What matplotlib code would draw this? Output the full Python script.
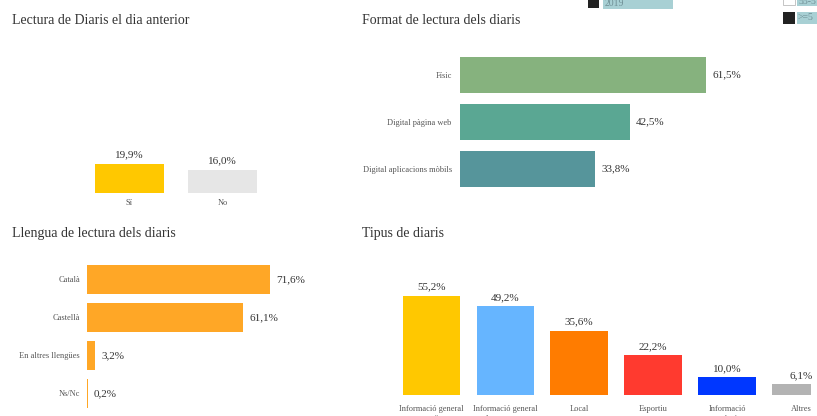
import matplotlib.pyplot as plt
from matplotlib.patches import Rectangle

# data
lectura_cats = ["Sí", "No"]
lectura_vals = [19.9, 16.0]
lectura_colors = ["#FFC800", "#E6E6E6"]

format_cats = ["Físic", "Digital pàgina web", "Digital aplicacions mòbils"]
format_vals = [61.5, 42.5, 33.8]
format_colors = ["#86B27E", "#5AA793", "#56959B"]

llengua_cats = ["Català", "Castellà", "En altres llengües", "Ns/Nc"]
llengua_vals = [71.6, 61.1, 3.2, 0.2]
llengua_color = "#FFA726"

tipus_cats = ["Informació general\ngratuïta", "Informació general\nde pagament", "Local",
              "Esportiu", "Informació\neconòmica", "Altres"]
tipus_vals = [55.2, 49.2, 35.6, 22.2, 10.0, 6.1]
tipus_colors = ["#FFC800", "#66B5FF", "#FF7C00", "#FF3A2F", "#0037FF", "#B3B3B3"]

W, H = 817, 416
TITLE_C = "#333333"
TICK_C = "#555555"
VAL_C = "#333333"

plt.rcParams["font.family"] = ["Liberation Serif", "DejaVu Serif"]


def box(l, t, r, b):
    return [l / W, 1 - b / H, (r - l) / W, (b - t) / H]


def pct(v):
    return f"{v:.1f}%".replace(".", ",")


def clean(ax):
    for s in ax.spines.values():
        s.set_visible(False)
    ax.tick_params(length=0, colors=TICK_C, labelsize=6)


fig = plt.figure(figsize=(W / 100, H / 100), dpi=100)

# titles
fig.text(12 / W, 1 - 21 / H, "Lectura de Diaris el dia anterior", fontsize=10, color=TITLE_C, va="center")
fig.text(362 / W, 1 - 21 / H, "Format de lectura dels diaris", fontsize=10, color=TITLE_C, va="center")
fig.text(12 / W, 1 - 234 / H, "Llengua de lectura dels diaris", fontsize=10, color=TITLE_C, va="center")
fig.text(362 / W, 1 - 234 / H, "Tipus de diaris", fontsize=10, color=TITLE_C, va="center")

# clipped legend fragments at the top
teal = "#A8D0D4"
fig.patches.append(Rectangle((588 / W, 1 - 8 / H), 11 / W, 10 / H, transform=fig.transFigure,
                             facecolor="#222222", edgecolor="none"))
fig.patches.append(Rectangle((603 / W, 1 - 9 / H), 70 / W, 11 / H, transform=fig.transFigure,
                             facecolor=teal, edgecolor="none"))
fig.text(605 / W, 1 - 3 / H, "2019", fontsize=7, color="#6F8F95", va="center")
fig.patches.append(Rectangle((783 / W, 1 - 5 / H), 12 / W, 8 / H, transform=fig.transFigure,
                             facecolor="white", edgecolor="#BBBBBB", linewidth=0.6))
fig.patches.append(Rectangle((797 / W, 1 - 6 / H), 22 / W, 8 / H, transform=fig.transFigure,
                             facecolor=teal, edgecolor="none"))
fig.text(798 / W, 1 - 1 / H, "55-5", fontsize=7, color="#6F8F95", va="center")
fig.patches.append(Rectangle((783 / W, 1 - 24 / H), 12 / W, 12 / H, transform=fig.transFigure,
                             facecolor="#222222", edgecolor="none"))
fig.patches.append(Rectangle((797 / W, 1 - 24 / H), 22 / W, 12 / H, transform=fig.transFigure,
                             facecolor=teal, edgecolor="none"))
fig.text(798 / W, 1 - 18 / H, ">=5", fontsize=7, color="#6F8F95", va="center")

# panel 1: vertical bars
ax1 = fig.add_axes(box(83, 47, 269, 193))
x1 = range(len(lectura_cats))
bars = ax1.bar(x1, lectura_vals, width=0.75, color=lectura_colors)
ax1.set_xlim(-0.5, 1.5)
ax1.set_ylim(0, 100)
ax1.set_xticks(list(x1), lectura_cats)
ax1.set_yticks([])
clean(ax1)
ax1.tick_params(axis="x", pad=4)
for b, v in zip(bars, lectura_vals):
    ax1.annotate(pct(v), (b.get_x() + b.get_width() / 2, v), xytext=(0, 3),
                 textcoords="offset points", ha="center", va="bottom", fontsize=8, color=VAL_C)

# panel 2: horizontal bars
ax2 = fig.add_axes(box(460, 51.5, 780, 192.5))
y2 = range(len(format_cats))
bars = ax2.barh(y2, format_vals, height=0.766, color=format_colors)
ax2.set_xlim(0, 80)
ax2.set_ylim(2.5, -0.5)
ax2.set_yticks(list(y2), format_cats)
ax2.set_xticks([])
clean(ax2)
ax2.tick_params(axis="y", pad=6)
for b, v in zip(bars, format_vals):
    ax2.annotate(pct(v), (v, b.get_y() + b.get_height() / 2), xytext=(4.5, 0),
                 textcoords="offset points", ha="left", va="center", fontsize=8, color=VAL_C)

# panel 3: horizontal bars
ax3 = fig.add_axes(box(87, 260.5, 291, 412.5))
y3 = range(len(llengua_cats))
bars = ax3.barh(y3, llengua_vals, height=0.763, color=llengua_color)
ax3.set_xlim(0, 80)
ax3.set_ylim(3.5, -0.5)
ax3.set_yticks(list(y3), llengua_cats)
ax3.set_xticks([])
clean(ax3)
ax3.tick_params(axis="y", pad=5)
for b, v in zip(bars, llengua_vals):
    ax3.annotate(pct(v), (v, b.get_y() + b.get_height() / 2), xytext=(4.5, 0),
                 textcoords="offset points", ha="left", va="center", fontsize=8, color=VAL_C)

# panel 4: vertical bars
ax4 = fig.add_axes(box(394.5, 287, 811, 395))
x4 = range(len(tipus_cats))
bars = ax4.bar(x4, tipus_vals, width=0.78, color=tipus_colors)
ax4.set_xlim(-0.5, 5.136)
ax4.set_ylim(0, 60)
ax4.set_xticks(list(x4), tipus_cats)
ax4.set_yticks([])
clean(ax4)
ax4.tick_params(axis="x", pad=7.5)
for b, v in zip(bars, tipus_vals):
    ax4.annotate(pct(v), (b.get_x() + b.get_width() / 2, v), xytext=(0, 3),
                 textcoords="offset points", ha="center", va="bottom", fontsize=8, color=VAL_C,
                 annotation_clip=False)

fig.savefig("out.png", dpi=100)
